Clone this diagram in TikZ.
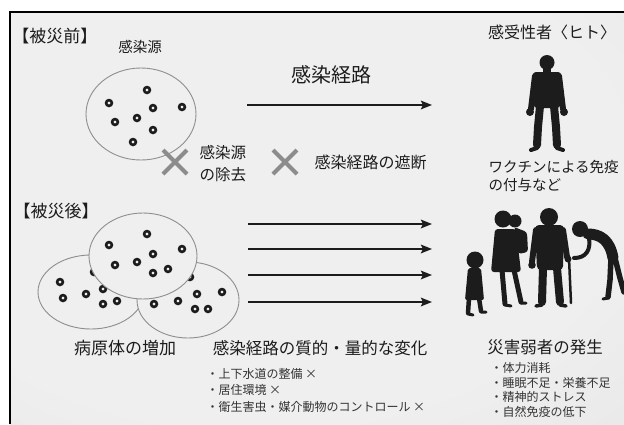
\documentclass[tikz,border=0pt]{standalone}
\usepackage{fontspec}
\setmainfont{Noto Sans CJK JP}
\usetikzlibrary{arrows.meta}

\definecolor{ink}{HTML}{1C1C1C}
\definecolor{paper}{HTML}{EFEFEF}
\definecolor{rim}{HTML}{8E8E8E}
\definecolor{cross}{HTML}{8C8C8C}

\pgfdeclareradialshading{paperglow}{\pgfpoint{-8bp}{8bp}}{color(0bp)=(paper); color(30bp)=(paper); color(55bp)=(gray!22); color(80bp)=(gray!50)}

\tikzset{
  bigtext/.style={font=\fontsize{17}{20}\selectfont, text=ink},
  midtext/.style={font=\fontsize{16}{19}\selectfont, text=ink},
  smalltext/.style={font=\fontsize{12}{16.5}\selectfont, text=ink!90, align=left, anchor=west},
  route/.style={line width=2.4pt, draw=ink, -{Stealth[length=11pt,width=8.5pt,inset=2pt]}},
  source/.style={draw=rim, line width=0.9pt},
  germ/.style={draw=ink, line width=2.6pt},
  cut/.style={draw=cross, line width=4pt},
  limb/.style={draw=ink, line cap=round, line join=round},
}

\begin{document}
\begin{tikzpicture}[x=1pt,y=-1pt]
\useasboundingbox (0,0) rectangle (624,424);

% paper and frame
\fill[white] (0,0) rectangle (624,424);
\shade[shading=paperglow] (10,12) rectangle (624,424);
\draw[line width=2.5pt] (10,424) -- (10,12) -- (624,12);

% ---- before
\node[bigtext] at (55,36) (before) {【被災前】};
\node[font=\fontsize{14.5}{17}\selectfont, text=ink] at (140,47) (source) {感染源};
\draw[source] (141,114) ellipse (55pt and 46pt);
\foreach \p in {(147,90),(109,103),(182,107),(153,108),(115,122),(137,118),(153,130),(133,142)}
  \draw[germ] \p circle (2.9pt);

\node[font=\fontsize{20}{23}\selectfont, text=ink] at (331,75) (path) {感染経路};
\coordinate (p0) at (247,105);
\coordinate (q0) at (432,105);
\draw[route] (p0) -- (q0);

\draw[cut] (163,150) -- (187,174) (163,174) -- (187,150);
\draw[cut] (273,150) -- (297,174) (273,174) -- (297,150);
\node[font=\fontsize{15.5}{22}\selectfont, text=ink, align=left, anchor=west] at (196,164) (removal) {感染源\\の除去};
\node[font=\fontsize{16}{19}\selectfont, text=ink, anchor=west] at (311,162) (block) {感染経路の遮断};

\node[midtext] at (552,32) (host) {感受性者〈ヒト〉};
% standing person
\fill[ink] (547,62.5) circle (7.5pt);
\fill[ink] (543,66) rectangle (551,74);
\fill[ink, rounded corners=3pt] (533,72) -- (561,72) -- (560,108) -- (534,108) -- cycle;
\draw[limb, line width=6pt] (535,76) -- (531,109) (559,76) -- (563,109);
\fill[ink] (530,112) circle (4pt) (564,112) circle (4pt);
\draw[limb, line width=8pt] (540,106) -- (538,127) -- (537,145) (554,106) -- (556,127) -- (557,145);
\draw[limb, line width=4pt] (537,148) -- (531,150) (557,148) -- (563,150);
\node[font=\fontsize{14.5}{18}\selectfont, text=ink, align=left, anchor=west] at (485,176) (vaccine) {ワクチンによる免疫\\の付与など};

% ---- after
\node[bigtext] at (56,211) (after) {【被災後】};
\draw[source] (91,292) ellipse (53pt and 37pt);
\foreach \p in {(60,282),(63,298),(86,294),(103,289),(103,304),(117,301),(94,272)}
  \draw[germ] \p circle (2.9pt);
\draw[source, fill=paper] (188,300) ellipse (51pt and 38pt);
\foreach \p in {(154,304),(178,301),(197,294),(222,292),(195,309),(208,309),(190,277)}
  \draw[germ] \p circle (2.9pt);
\draw[source, fill=paper] (143,256) ellipse (54pt and 43pt);
\foreach \p in {(147,234),(109,245),(182,249),(153,254),(115,265),(137,262),(153,273),(168,269)}
  \draw[germ] \p circle (2.9pt);

\foreach \i/\y in {1/224,2/249,3/275,4/302} {
  \coordinate (p\i) at (248,\y);
  \coordinate (q\i) at (432,\y);
  \draw[route] (p\i) -- (q\i);
}

% child
\fill[ink] (475,260) circle (8.5pt);
\fill[ink, rounded corners=2pt] (468,268) -- (481,268) -- (484,300) -- (465,300) -- cycle;
\draw[limb, line width=4.5pt] (469,298) -- (468,313) (479,298) -- (481,311);
\draw[limb, line width=3pt] (468,314) -- (473,315) (481,312) -- (486,312);
% mother with baby
\fill[ink] (503,219) circle (8.5pt) (515,221) circle (6.5pt);
\fill[ink, rounded corners=3pt] (495,229) -- (516,229) -- (521,272) -- (491,272) -- cycle;
\fill[ink, rounded corners=3pt] (514,227) -- (527,232) -- (528,252) -- (518,254) -- cycle;
\draw[limb, line width=5pt] (502,270) -- (505,304) (514,270) -- (521,302);
\draw[limb, line width=3pt] (505,305) -- (511,306) (521,303) -- (526,303);
% man with cane
\fill[ink] (549,217) circle (9pt);
\fill[ink, rounded corners=4pt] (535,225) -- (564,225) -- (563,270) -- (537,270) -- cycle;
\draw[limb, line width=6pt] (536,230) -- (532,262) (563,230) -- (567,257);
\fill[ink] (532,265) circle (3.8pt) (568,259) circle (3.5pt);
\draw[limb, line width=2.5pt] (569,258) -- (571,303);
\draw[limb, line width=8pt] (543,268) -- (542,302) (557,268) -- (560,302);
\draw[limb, line width=3.5pt] (542,305) -- (536,306) (560,305) -- (566,306);
% bent elder
\fill[ink] (580,229) circle (8pt);
\draw[limb, line width=11pt] (588,234) .. controls (600,234) and (610,240) .. (613,258);
\draw[limb, line width=4pt] (589,238) .. controls (591,250) and (586,258) .. (574,258);
\draw[limb, line width=5.5pt] (611,258) -- (610,280) -- (608,297) (615,258) -- (620,278) -- (624,292);
\draw[limb, line width=3pt] (608,298) -- (603,299);

\node[font=\fontsize{17}{20}\selectfont, text=ink] at (125,348) (growth) {病原体の増加};
\node[font=\fontsize{16.5}{20}\selectfont, text=ink] at (320,348) (change) {感染経路の質的・量的な変化};
\node[smalltext] at (203,390) (infra) {・上下水道の整備 ×\\・居住環境 ×\\・衛生害虫・媒介動物のコントロール ×};

\node[font=\fontsize{16.5}{20}\selectfont, text=ink] at (545,347) (weak) {災害弱者の発生};
\node[smalltext, font=\fontsize{12}{14.8}\selectfont] at (487,390) (causes) {・体力消耗\\・睡眠不足・栄養不足\\・精神的ストレス\\・自然免疫の低下};
\end{tikzpicture}
\end{document}
